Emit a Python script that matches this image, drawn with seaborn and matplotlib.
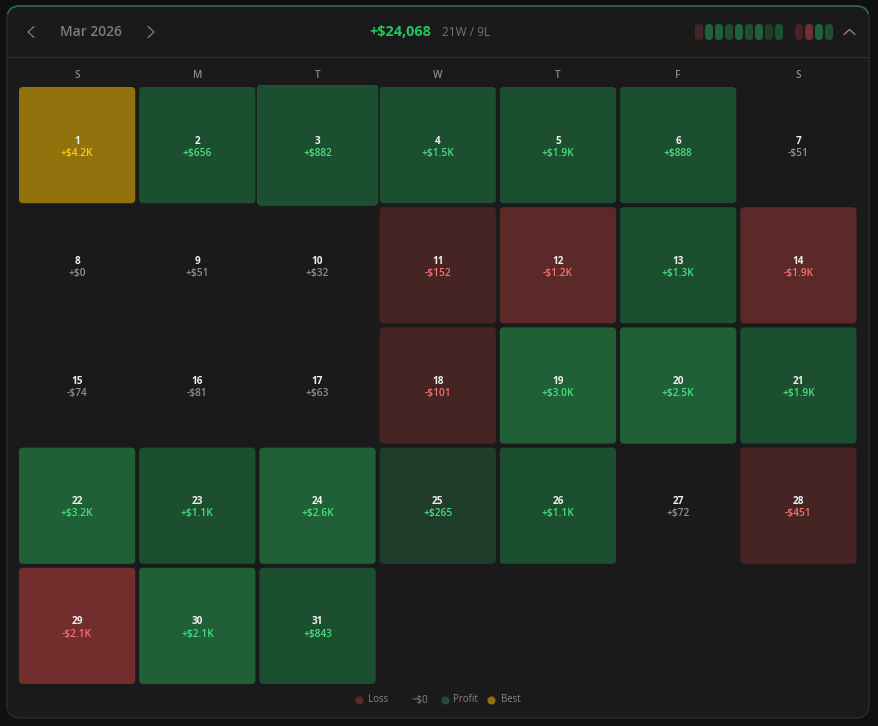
import numpy as np
import matplotlib
matplotlib.use("Agg")
import matplotlib.pyplot as plt
from matplotlib.colors import ListedColormap
from matplotlib.patches import FancyBboxPatch, Rectangle
import seaborn as sns

weekdays = ["S", "M", "T", "W", "T", "F", "S"]
days = list(range(1, 32))
# first day of the month falls on the first column
pnl_labels = ["+$4.2K", "+$656", "+$882", "+$1.5K", "+$1.9K", "+$888", "-$51",
              "+$0", "+$51", "+$32", "-$152", "-$1.2K", "+$1.3K", "-$1.9K",
              "-$74", "-$81", "+$63", "-$101", "+$3.0K", "+$2.5K", "+$1.9K",
              "+$3.2K", "+$1.1K", "+$2.6K", "+$265", "+$1.1K", "+$72", "-$451",
              "-$2.1K", "+$2.1K", "+$843"]
# colour step of each day: 0-2 loss, 3 flat, 4-6 profit, 7 best
levels = [7, 5, 5, 5, 5, 5, 3,
          3, 3, 3, 0, 1, 5, 1,
          3, 3, 3, 0, 6, 6, 5,
          6, 5, 6, 4, 5, 3, 0,
          2, 6, 5]
level_colors = ["#472424", "#5c2929", "#722d2d", "#1a1a1a",
                "#203c2b", "#1c4f30", "#1f6037", "#92720c"]
pill_levels_a = [0, 6, 6, 5, 6, 5, 6, 4, 5]
pill_levels_b = [0, 2, 6, 5]
hover_day = 3

total_label = "+$24,068"
record_label = "21W / 9L"
month_label = "Mar 2026"
legend_items = [("Loss", "#5c2929"), ("~$0", None), ("Profit", "#1c4f30"), ("Best", "#92720c")]

W, H = 879, 726
sns.set_theme(style="dark", rc={"figure.facecolor": "#101010"})
plt.rcParams["font.family"] = ["Open Sans", "DejaVu Sans"]

fig = plt.figure(figsize=(W / 100, H / 100), dpi=100)

# page furniture in pixel space
back = fig.add_axes([0, 0, 1, 1])
back.set_xlim(0, W)
back.set_ylim(H, 0)
back.axis("off")
back.add_patch(FancyBboxPatch((7, 6), 862, 712, boxstyle="round,pad=0,rounding_size=13",
                              fc="#1a1a1a", ec="#2c2c2c", lw=1))
# green top edge, clipped to the top of the panel
edge = FancyBboxPatch((7, 6), 862, 712, boxstyle="round,pad=0,rounding_size=13",
                      fc="none", ec="#23703f", lw=1.2)
back.add_patch(edge)
edge.set_clip_path(Rectangle((0, 0), W, 14, transform=back.transData))
back.plot([7, 869], [56.5, 56.5], color="#2e2e2e", lw=0.8)

back.plot([34, 28, 34], [26.5, 32, 37.5], color="#808080", lw=0.9)
back.plot([148, 154, 148], [26.5, 32, 37.5], color="#808080", lw=0.9)
back.plot([844, 849.5, 855], [34.5, 29.5, 34.5], color="#909090", lw=0.9)
back.text(90.5, 32, month_label, color="#7d7d7d", fontsize=9.9, fontweight="semibold",
          ha="center", va="center")
back.text(369, 32, total_label, color="#22c55e", fontsize=10.4, fontweight="bold",
          ha="left", va="center")
back.text(442, 32, record_label, color="#757575", fontsize=8.6, ha="left", va="center")


def draw_pills(start, pill_levels):
    for i, lev in enumerate(pill_levels):
        back.add_patch(FancyBboxPatch((start + i * 10 - 4, 24), 8, 16,
                                      boxstyle="round,pad=0,rounding_size=4",
                                      fc=level_colors[lev], ec="none"))


draw_pills(699, pill_levels_a)
draw_pills(799, pill_levels_b)

for (name, col), dot_x, text_x in zip(legend_items, [359.5, None, 445, 491.5], [368.5, 411.5, 453, 501]):
    if col is not None:
        back.scatter([dot_x], [699.5], s=34, color=col, linewidths=0)
    back.text(text_x, 700, name, color="#868686", fontsize=6.9, ha="left", va="center")

# calendar grid
n_rows = 5
grid = np.full((n_rows, 7), np.nan)
for d, lev in zip(days, levels):
    grid[(d - 1) // 7, (d - 1) % 7] = lev

ax = fig.add_axes([17 / W, 1 - 686 / H, 841.5 / W, 601 / H])
sns.heatmap(grid, ax=ax, cmap=ListedColormap(level_colors), vmin=-0.5, vmax=7.5, cbar=False,
            xticklabels=weekdays, yticklabels=False, square=False)
ax.collections[0].set_visible(False)  # cells redrawn below with round corners
ax.patch.set_alpha(0)
ax.xaxis.tick_top()
ax.tick_params(axis="x", length=0, pad=3, labelsize=7.2, labelcolor="#8a8a8a", rotation=0)
for lab in ax.get_xticklabels():
    lab.set_fontweight("semibold")
for s in ax.spines.values():
    s.set_visible(False)

gap = 2 / 120.2

for d, lev, lab in zip(days, levels, pnl_labels):
    r, c = (d - 1) // 7, (d - 1) % 7
    if lev != 3:
        grow = -gap
        ec = "none"
        if d == hover_day:
            grow = 0.0
            ec = "#1f5635"
        ax.add_patch(FancyBboxPatch((c - grow, r - grow), 1 + 2 * grow, 1 + 2 * grow,
                                    boxstyle="round,pad=0,rounding_size=0.033",
                                    fc=level_colors[lev], ec=ec, lw=0.7))
    if lev == 7:
        val_col = "#facc15"
    elif lev > 3:
        val_col = "#4ade80"
    elif lev < 3:
        val_col = "#f87171"
    else:
        val_col = "#8f8f8f"
    ax.annotate(str(d), (c + 0.5, r + 0.5), xytext=(0, 2.9), textcoords="offset points",
                color="#f0f0f0", fontsize=7.2, fontweight="bold", ha="center", va="center")
    ax.annotate(lab, (c + 0.5, r + 0.5), xytext=(0, -5.9), textcoords="offset points",
                color=val_col, fontsize=7.3, fontweight="semibold", ha="center", va="center")

fig.savefig("out.png", dpi=100, facecolor=fig.get_facecolor())
